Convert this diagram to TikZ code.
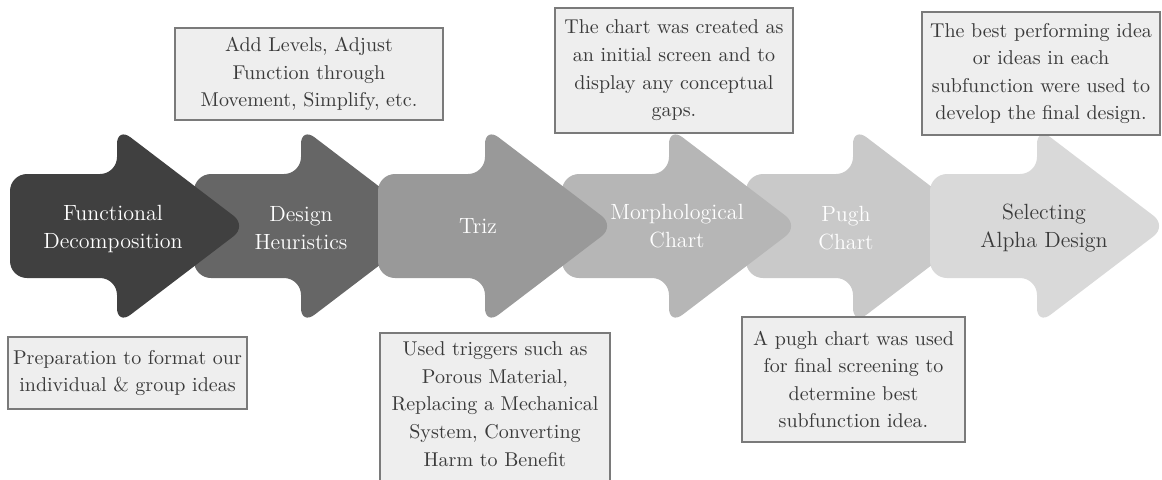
\documentclass[tikz,border=0pt]{standalone}
\definecolor{arrA}{HTML}{404040}
\definecolor{arrB}{HTML}{666666}
\definecolor{arrC}{HTML}{999999}
\definecolor{arrD}{HTML}{B6B6B6}
\definecolor{arrE}{HTML}{C9C9C9}
\definecolor{arrF}{HTML}{D9D9D9}
\definecolor{boxfill}{HTML}{EEEEEE}
\definecolor{boxline}{HTML}{7A7A7A}
\definecolor{boxtext}{HTML}{3A3A3A}
\tikzset{
    stagelbl/.style={text=white, align=center, inner sep=0pt,
        font=\fontsize{11}{14.4}\selectfont},
    infobox/.style={draw=boxline, fill=boxfill, line width=0.8pt, text=boxtext,
        align=center, inner sep=0pt, font=\fontsize{10}{13.8}\selectfont},
    infotext/.style={text=boxtext, align=center, inner sep=0pt,
        font=\fontsize{10}{13.8}\selectfont}
}
\begin{document}
\begin{tikzpicture}[x=0.5pt, y=-0.5pt]
    \useasboundingbox (0,0) rectangle (1162,479);
    \clip (0,0) rectangle (1162,479);
    % stage arrows, drawn so that the overlaps come out right
    \foreach \i/\col in {1/arrB, 4/arrE, 3/arrD, 5/arrF, 2/arrC, 0/arrA}{
        \pgfmathsetmacro\xo{10+184*\i}
        \fill[\col, rounded corners=8.5pt] (\xo,226) -- (\xo,174) -- (\xo+107,174)
            -- (\xo+107,127) -- (\xo+237,226) -- (\xo+107,325)
            -- (\xo+107,278) -- (\xo,278) -- cycle;
    }
    \node[stagelbl] (decomp) at (113,229) {Functional\\Decomposition};
    \node[stagelbl] (heur) at (301,228) {Design\\Heuristics};
    \node[stagelbl] (triz) at (478,226) {Triz};
    \node[stagelbl] (morph) at (677,226) {Morphological\\Chart};
    \node[stagelbl] (pugh) at (846,228) {Pugh\\Chart};
    \node[stagelbl, text=boxtext] (alpha) at (1044,228) {Selecting\\Alpha Design};
    % notes
    \node[infobox, minimum width=134pt, minimum height=46pt] (levels) at (309,74)
        {Add Levels, Adjust\\Function through\\Movement, Simplify, etc.};
    \node[infobox, minimum width=119.5pt, minimum height=36pt] (prep) at (127.5,373)
        {Preparation to format our\\individual \& group ideas};
    \node[infobox, minimum width=115pt, minimum height=90pt, anchor=north] (trizbox) at (495,332) {};
    \node[infotext] (triggers) at (495,404)
        {Used triggers such as\\Porous Material,\\Replacing a Mechanical\\System, Converting\\Harm to Benefit};
    \node[infobox, minimum width=119pt, minimum height=62.5pt] (screen) at (674,70.5)
        {The chart was created as\\an initial screen and to\\display any conceptual\\gaps.};
    \node[infobox, minimum width=111.5pt, minimum height=62.5pt] (final) at (853.5,379.5)
        {A pugh chart was used\\for final screening to\\determine best\\subfunction idea.};
    \node[infobox, minimum width=119pt, minimum height=61.5pt] (best) at (1041,73.5)
        {The best performing idea\\or ideas in each\\subfunction were used to\\develop the final design.};
\end{tikzpicture}
\end{document}
